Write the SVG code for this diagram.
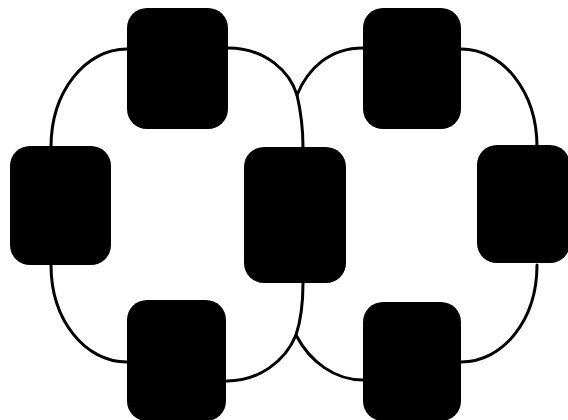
<svg xmlns="http://www.w3.org/2000/svg" width="568" height="420" viewBox="0 0 568 420">
<style>
.node{fill:#000;}
.edge{fill:none;stroke:#000;stroke-width:3;stroke-linecap:round;stroke-linejoin:round;}
</style>
<rect width="568" height="420" fill="#fff"/>
<g id="connectors">
<path class="edge" d="M127,49 C85,49 51,92 51,147"/>
<path class="edge" d="M51,265 C51,320 85,362 127,362"/>
<path class="edge" d="M228,48 C266,48 290,72 297,95 C300,108 303,125 303,147"/>
<path class="edge" d="M363,48 C330,48 308,68 297,95"/>
<path class="edge" d="M303,283 C303,305 301,320 296,335 C285,362 258,381 227,381"/>
<path class="edge" d="M296,335 C310,362 335,380 363,380"/>
<path class="edge" d="M461,49 C503,49 537,92 537,147"/>
<path class="edge" d="M537,265 C537,320 503,362 461,362"/>
</g>
<g id="node-top-left"><rect class="node" x="127" y="8" width="101" height="121" rx="20"/></g>
<g id="node-top-right"><rect class="node" x="363" y="8" width="98" height="121" rx="20"/></g>
<g id="node-left"><rect class="node" x="10" y="146" width="101" height="119" rx="20"/></g>
<g id="node-middle"><rect class="node" x="244" y="147" width="102" height="136" rx="20"/></g>
<g id="node-right"><rect class="node" x="477" y="145" width="93" height="118" rx="20"/></g>
<g id="node-bottom-left"><rect class="node" x="127" y="300" width="99" height="121" rx="20"/></g>
<g id="node-bottom-right"><rect class="node" x="363" y="302" width="98" height="119" rx="20"/></g>
</svg>
